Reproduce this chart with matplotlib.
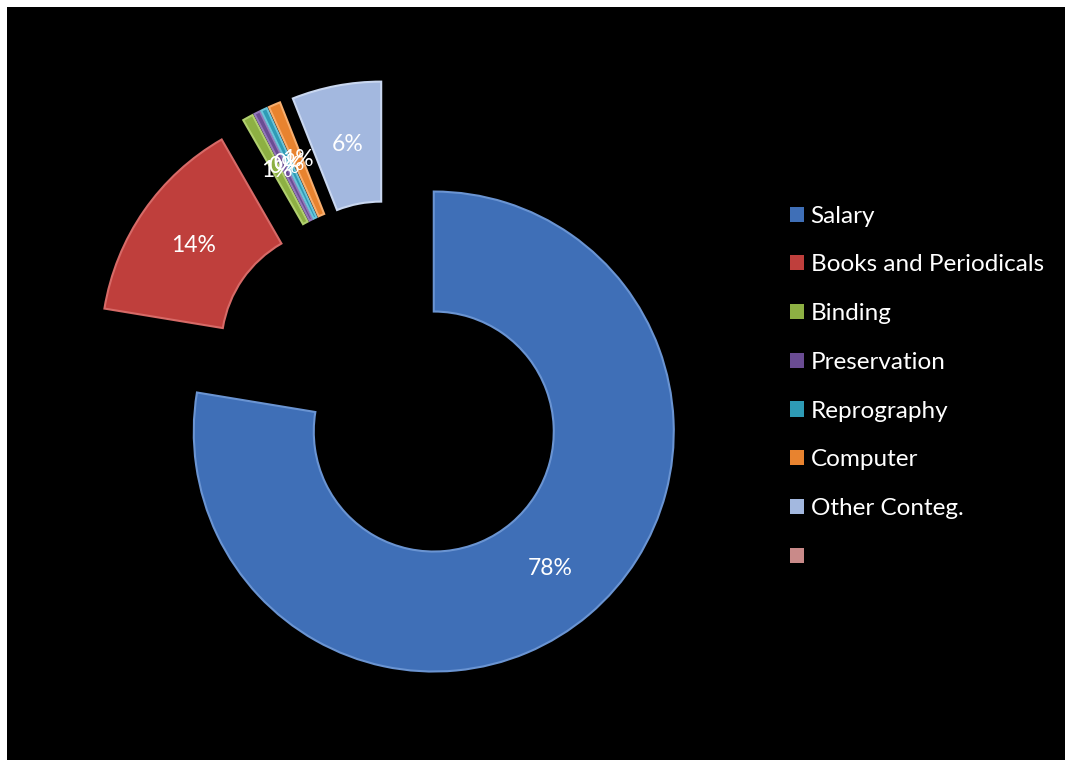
import matplotlib.pyplot as plt
from matplotlib.patches import Patch

plt.rcParams["font.family"] = ["Lato", "DejaVu Sans"]

# budget shares (%)
categories = ["Salary", "Books and Periodicals", "Binding", "Preservation",
              "Reprography", "Computer", "Other Conteg."]
shares = [77.6, 14.1, 0.7, 0.4, 0.4, 0.8, 6.0]
colors = ["#3F6FB7", "#BF3F3C", "#8DB043", "#6A4C93", "#2E9BB5", "#E8832F", "#A3B8DF"]
edge_colors = ["#6A94D2", "#D76A67", "#B0CF6E", "#9479BA", "#6CC3DA", "#F7AE6E", "#C9D7F0"]
# eighth, empty series entry shown in the legend only
extra_label = ""
extra_color = "#C98A89"

fig = plt.figure(figsize=(10.65, 7.6), dpi=100)
fig.patch.set_facecolor("white")

# black chart area, leaving a thin white strip at top and left
bg = fig.add_axes([7 / 1065, 0, 1 - 7 / 1065, 1 - 7 / 760])
bg.set_facecolor("black")
bg.set_xticks([])
bg.set_yticks([])
for s in bg.spines.values():
    s.set_visible(False)

ax = fig.add_axes([0, 0, 1, 1])
ax.set_facecolor("none")

wedges, _, autotexts = ax.pie(
    shares, colors=colors, startangle=90, counterclock=False,
    radius=240, center=(393, 760 - 383.5), explode=[63] * len(shares),
    wedgeprops=dict(width=120, linewidth=1.5), autopct="%.0f%%",
    pctdistance=0.75, textprops=dict(color="white", fontsize=16.5), frame=True,
)
for w, ec in zip(wedges, edge_colors):
    w.set_edgecolor(ec)

ax.set_xlim(0, 1065)
ax.set_ylim(0, 760)
ax.set_axis_off()

handles = [Patch(facecolor=c, edgecolor="none") for c in colors]
handles.append(Patch(facecolor=extra_color, edgecolor="none"))
leg = ax.legend(handles, categories + [extra_label], loc="upper left",
                bbox_to_anchor=(780 / 1065, 1 - 196 / 760), bbox_transform=fig.transFigure,
                frameon=False, fontsize=17.5, labelcolor="white",
                handlelength=0.58, handleheight=0.58, handletextpad=0.28,
                labelspacing=1.14, borderaxespad=0)

fig.savefig("out.png", dpi=100, facecolor=fig.get_facecolor())
